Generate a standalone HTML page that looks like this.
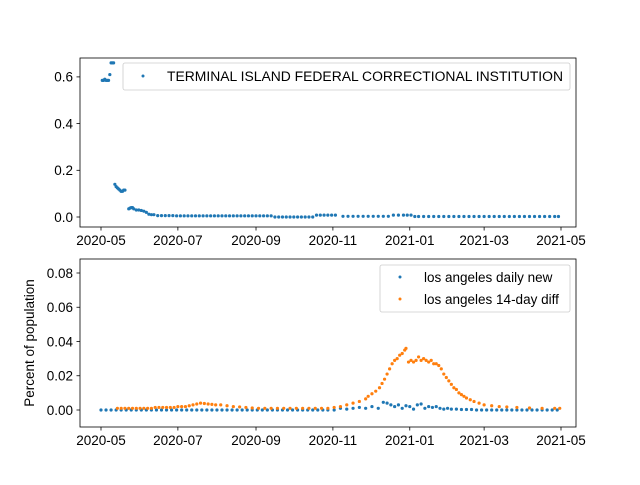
<!DOCTYPE html>
<html><head><meta charset="utf-8"><style>
body{margin:0;background:#fff}
svg{font-family:"Liberation Sans","DejaVu Sans",sans-serif;font-size:13.5px}
</style></head><body>
<svg id="chart" width="640" height="480" xmlns="http://www.w3.org/2000/svg">
<rect width="640" height="480" fill="#fff"/>
</svg>
<script>
// Data (day offsets from 2020-05-01)
const xTickLabels = ["2020-05","2020-07","2020-09","2020-11","2021-01","2021-03","2021-05"];
const xTickDays = [0,61,123,184,245,304,365];
const topTicks = [0.0,0.2,0.4,0.6];
const botTicks = [0.00,0.02,0.04,0.06,0.08];
const prisonDays = [1,2,3,4,5,6,7,8,9,10,11,12,13,14,15,16,17,18,19,22,23,24,25,26,28,30,32,34,36,38,40,42,45,48,51,54,57,60,63,66,69,72,75,78,81,84,87,90,93,96,99,102,105,108,111,114,117,120,123,126,129,132,135,138,141,144,147,150,153,156,159,162,165,168,171,174,177,180,183,186,192,196,200,204,208,212,216,220,224,228,232,236,240,243,246,249,252,256,260,264,268,272,276,280,284,288,292,296,300,304,308,312,316,320,324,328,332,336,340,344,348,352,356,360,363];
const prisonVals = [0.585,0.585,0.59,0.585,0.585,0.585,0.61,0.66,0.66,0.66,0.14,0.13,0.125,0.12,0.115,0.11,0.11,0.115,0.115,0.035,0.038,0.04,0.04,0.035,0.03,0.03,0.028,0.025,0.02,0.012,0.01,0.01,0.006,0.006,0.006,0.006,0.006,0.005,0.005,0.005,0.005,0.005,0.005,0.005,0.005,0.005,0.005,0.005,0.005,0.005,0.005,0.005,0.005,0.005,0.005,0.005,0.005,0.005,0.005,0.005,0.005,0.005,0.005,0.0,0.0,0.0,0.0,0.0,0.0,0.0,0.0,0.0,0.0,0.0,0.008,0.008,0.008,0.008,0.008,0.008,0.003,0.003,0.003,0.003,0.003,0.003,0.003,0.003,0.003,0.003,0.008,0.008,0.008,0.008,0.008,0.002,0.002,0.002,0.002,0.002,0.002,0.002,0.002,0.002,0.002,0.002,0.002,0.002,0.002,0.002,0.002,0.002,0.002,0.002,0.002,0.002,0.002,0.002,0.002,0.002,0.002,0.002,0.002,0.002,0.002];
const dailyDays = [0,4,8,12,16,20,24,28,32,36,40,44,48,52,56,60,64,68,72,76,80,84,88,92,96,100,104,108,112,116,120,124,128,132,136,140,144,148,152,156,160,164,168,172,176,180,185,190,195,200,205,210,215,220,224,227,230,233,236,239,242,245,248,251,254,257,260,263,266,269,272,275,278,282,286,290,294,298,302,306,310,314,318,322,326,330,334,338,342,346,350,354,358,362];
const dailyVals = [0,0,0,0,0,0,0,0,0,0,0,0,0,0,0,0,0,0,0,0,0,0,0,0,0,0,0,0,0,0,0,0,0,0,0,0,0,0,0,0,0,0,0,0,0,0,0,0.001,0.0005,0.001,0.0015,0.001,0.002,0.001,0.0045,0.004,0.003,0.002,0.003,0.001,0.0025,0.002,0.0005,0.003,0.0035,0.001,0.002,0.0015,0.002,0.001,0.0005,0.001,0.0005,0.0005,0.0003,0.0003,0.0003,0,0,0,0,0,0,0,0,0,0,0,0,0,0,0,0,0];
const diffDays = [13,16,19,22,25,28,31,34,37,40,43,46,49,52,55,58,61,64,67,70,73,76,79,82,85,88,91,95,100,105,110,115,120,125,130,135,140,145,150,155,160,165,170,175,180,185,190,195,200,205,210,212,215,218,221,223,225,227,229,231,233,235,237,239,241,242,244,246,248,250,252,254,256,258,260,262,264,266,268,270,272,274,276,278,280,282,284,286,288,290,293,296,300,304,310,316,322,330,340,350,360,364];
const diffVals = [0.001,0.001,0.001,0.001,0.001,0.001,0.001,0.001,0.001,0.001,0.0015,0.0015,0.0015,0.0015,0.0015,0.0015,0.002,0.002,0.002,0.0025,0.003,0.0035,0.004,0.0038,0.0035,0.0033,0.003,0.003,0.0025,0.002,0.0018,0.0015,0.0012,0.001,0.001,0.001,0.001,0.001,0.001,0.001,0.001,0.001,0.001,0.001,0.001,0.0015,0.002,0.003,0.004,0.005,0.0065,0.008,0.0095,0.011,0.013,0.0155,0.018,0.021,0.024,0.027,0.029,0.03,0.032,0.033,0.035,0.036,0.028,0.029,0.028,0.029,0.031,0.029,0.03,0.029,0.028,0.029,0.027,0.027,0.026,0.024,0.021,0.019,0.017,0.015,0.013,0.012,0.01,0.009,0.008,0.007,0.006,0.005,0.004,0.003,0.0025,0.002,0.0018,0.0015,0.0012,0.001,0.001,0.001];

const svg = document.getElementById('chart');
const NS = 'http://www.w3.org/2000/svg';
function mk(tag, attrs, parent){const e=document.createElementNS(NS,tag);for(const k in attrs)e.setAttribute(k,attrs[k]);(parent||svg).appendChild(e);return e;}
const xs = d => 101 + d*460/365;
const yTop = v => 217 - v*233.5;
const yBot = v => 410 - v*1712.5;

function axes(name, top, bottom, ticks, yfn, fmt){
  const g = mk('g',{});
  
  
  xTickDays.forEach((d,i)=>{
    const x=xs(d);
    mk('line',{x1:x,x2:x,y1:bottom,y2:bottom+3.5,stroke:'#000','stroke-width':0.8},g);
    const t=mk('text',{x:x,y:bottom+18,'text-anchor':'middle'},g);
    t.textContent=xTickLabels[i];
    
    
  });
  ticks.forEach(v=>{
    const y=yfn(v);
    mk('line',{x1:80,x2:76.5,y1:y,y2:y,stroke:'#000','stroke-width':0.8},g);
    const t=mk('text',{x:73,y:y+4.8,'text-anchor':'end'},g);
    t.textContent=fmt(v);
    
    
  });
  return g;
}
function dots(name, days, vals, yfn, color){
  const g=mk('g',{fill:color});
  
  
  days.forEach((d,i)=>{
    const c=mk('circle',{cx:xs(d),cy:yfn(vals[i]),r:1.6},g);
    
    
  });
}
axes('top-axes',58,227,topTicks,yTop,v=>v.toFixed(1));
axes('bottom-axes',259,427,botTicks,yBot,v=>v.toFixed(2));
dots('prison-series',prisonDays,prisonVals,yTop,'#1f77b4');
dots('daily-new-series',dailyDays,dailyVals,yBot,'#1f77b4');
dots('diff-series',diffDays,diffVals,yBot,'#ff7f0e');
mk('rect',{x:80,y:58,width:496,height:169,fill:'none',stroke:'#000','stroke-width':0.8});
mk('rect',{x:80,y:259,width:496,height:168,fill:'none',stroke:'#000','stroke-width':0.8});

// legends
const l1=mk('g',{});


mk('rect',{x:123,y:63,width:447,height:27,rx:2,fill:'#fff','fill-opacity':0.8,stroke:'#ccc','stroke-width':0.8},l1);
mk('circle',{cx:143,cy:76,r:1.5,fill:'#1f77b4'},l1);
const t1=mk('text',{x:167,y:81,textLength:396,lengthAdjust:'spacingAndGlyphs'},l1);t1.textContent='TERMINAL ISLAND FEDERAL CORRECTIONAL INSTITUTION';

const l2=mk('g',{});


mk('rect',{x:380,y:265,width:190,height:47,rx:2,fill:'#fff','fill-opacity':0.8,stroke:'#ccc','stroke-width':0.8},l2);
mk('circle',{cx:400,cy:277,r:1.5,fill:'#1f77b4'},l2);
const t2=mk('text',{x:424,y:282},l2);t2.textContent='los angeles daily new';
mk('circle',{cx:400,cy:299,r:1.5,fill:'#ff7f0e'},l2);
const t3=mk('text',{x:424,y:304},l2);t3.textContent='los angeles 14-day diff';

const yl=mk('text',{x:0,y:0,'text-anchor':'middle',transform:'translate(34,343) rotate(-90)'});
yl.textContent='Percent of population';


</script>
</body></html>
